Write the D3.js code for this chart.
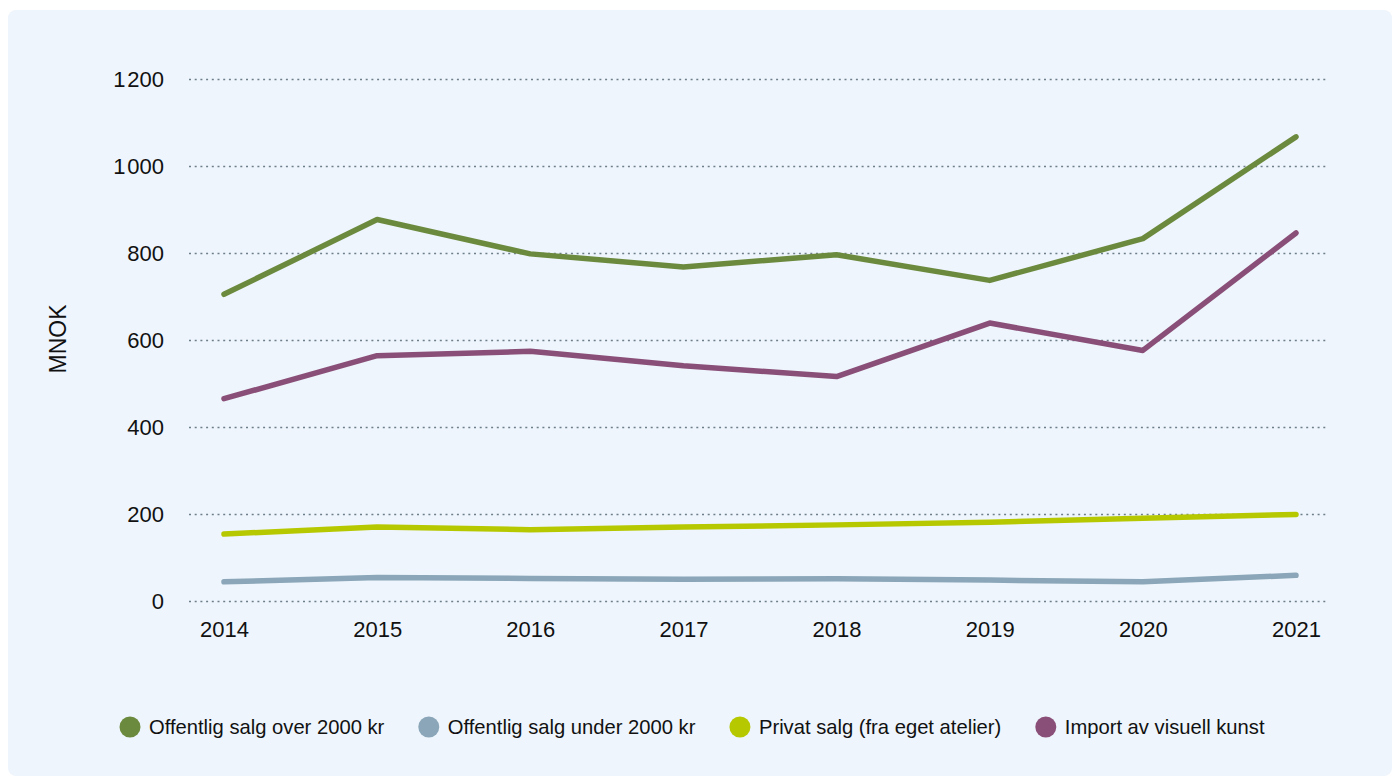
<!DOCTYPE html>
<html lang="no">
<head>
    <meta charset="UTF-8">
    <title>Salg av visuell kunst</title>
    <script src="https://d3js.org/d3.v7.min.js"></script>
    <style>
        body { margin: 0; background: #ffffff; }
        svg text { font-family: "Liberation Sans", Arial, sans-serif; fill: #111; }
    </style>
</head>
<body>
    <svg id="chart" width="1394" height="778"></svg>

    <script>
        // data
        const years = ["2014", "2015", "2016", "2017", "2018", "2019", "2020", "2021"];
        const seriesNames = [
            "Offentlig salg over 2000 kr",
            "Offentlig salg under 2000 kr",
            "Privat salg (fra eget atelier)",
            "Import av visuell kunst"
        ];
        const overValues    = [705, 877, 798, 768, 796, 737, 833, 1067];
        const underValues   = [44, 54, 52, 50, 51, 48, 44, 59];
        const privatValues  = [154, 170, 164, 170, 175, 181, 190, 199];
        const importValues  = [465, 564, 574, 541, 516, 639, 576, 846];
        const yTicks = [0, 200, 400, 600, 800, 1000, 1200];
        const yTickLabels = ["0", "200", "400", "600", "800", "1\u200A000", "1\u200A200"];
        const colors = ["#6b8a3e", "#8aa6b8", "#b6c800", "#8a4f78"];

        const allSeries = [overValues, underValues, privatValues, importValues];

        const svg = d3.select("#chart");
        const width = 1394, height = 778;
        const margin = { top: 79, right: 66, bottom: 177, left: 189 };

        // panel
        svg.append("rect")
            .attr("x", 8).attr("y", 10)
            .attr("width", width - 10).attr("height", height - 12)
            .attr("rx", 8)
            .attr("fill", "#eef5fc");

        const x = d3.scalePoint()
            .domain(years)
            .range([224, 1296]);

        const y = d3.scaleLinear()
            .domain([0, 1200])
            .range([height - margin.bottom, margin.top]);

        // y axis + dotted grid
        const yAxis = svg.append("g")
            .attr("transform", `translate(${margin.left},0)`)
            .call(d3.axisLeft(y)
                .tickValues(yTicks)
                .tickFormat((d, i) => yTickLabels[i])
                .tickSize(-(width - margin.left - margin.right))
                .tickPadding(25));
        yAxis.select(".domain").remove();
        yAxis.selectAll("line")
            .attr("stroke", "#6e7f8b")
            .attr("stroke-width", 1.3)
            .attr("stroke-dasharray", "2,3.7");
        yAxis.selectAll("text")
            .style("font-size", "22px")
            .attr("fill", "#111");

        // x axis labels
        const xAxis = svg.append("g")
            .attr("transform", `translate(0,${height - margin.bottom})`)
            .call(d3.axisBottom(x).tickSize(0).tickPadding(20));
        xAxis.select(".domain").remove();
        xAxis.selectAll("text")
            .style("font-size", "22px")
            .attr("fill", "#111");

        // y label
        svg.append("text")
            .attr("transform", "rotate(-90)")
            .attr("x", -339)
            .attr("y", 66)
            .attr("text-anchor", "middle")
            .style("font-size", "23px")
            .text("MNOK");

        // lines
        const line = d3.line()
            .x((d, i) => x(years[i]))
            .y(d => y(d));

        svg.append("g")
            .selectAll("path")
            .data(allSeries)
            .join("path")
            .attr("d", line)
            .attr("fill", "none")
            .attr("stroke", (d, i) => colors[i])
            .attr("stroke-width", 5.5)
            .attr("stroke-linecap", "round")
            .attr("stroke-linejoin", "round");

        // legend, laid out left to right
        const legend = svg.append("g").attr("transform", "translate(0,727)");
        let cx = 130;
        seriesNames.forEach((name, i) => {
            legend.append("circle")
                .attr("cx", cx)
                .attr("cy", 0)
                .attr("r", 10.5)
                .attr("fill", colors[i]);
            const t = legend.append("text")
                .attr("x", cx + 19)
                .attr("y", 0)
                .attr("dominant-baseline", "central")
                .style("font-size", "20.2px")
                .text(name);
            const w = t.node().getComputedTextLength();
            cx = cx + 19 + w + 34 + 10.5;
        });
    </script>
</body>
</html>
